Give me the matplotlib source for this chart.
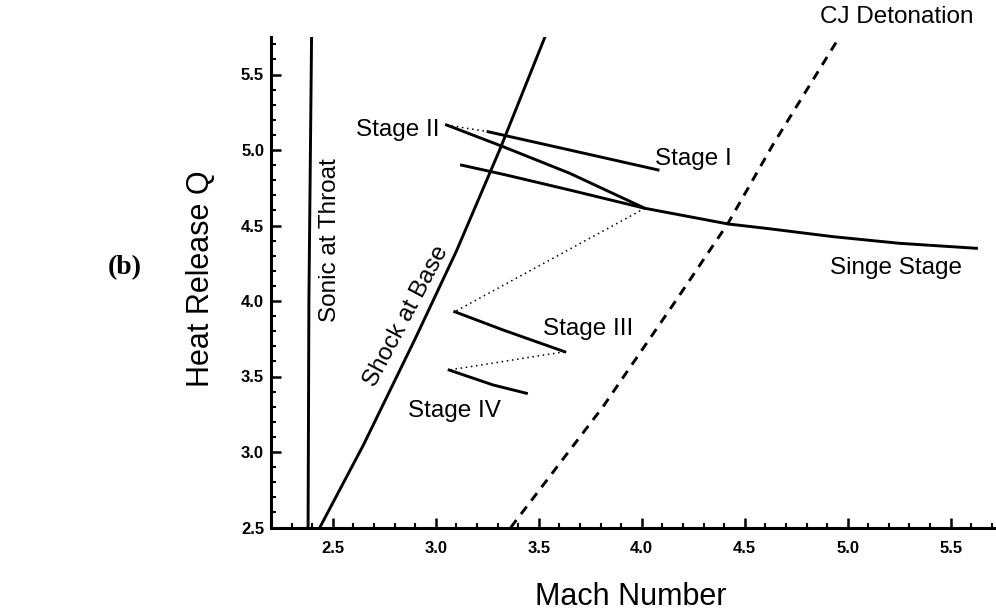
import matplotlib
matplotlib.use("Agg")
import matplotlib.pyplot as plt
from matplotlib.ticker import MultipleLocator, FormatStrFormatter

plt.rcParams['font.family'] = ['Liberation Sans', 'DejaVu Sans']

# ---- data ----
sonic_x = [2.380, 2.384, 2.397]
sonic_y = [2.50, 4.00, 5.75]

shock_x = [2.437, 2.65, 2.90, 3.10, 3.31, 3.529]
shock_y = [2.50, 3.05, 3.75, 4.33, 5.00, 5.745]

cj_x = [3.364, 3.812, 4.168, 4.419, 4.636, 4.956]
cj_y = [2.50, 3.30, 4.007, 4.515, 5.033, 5.74]

singe_x = [3.125, 3.343, 3.65, 4.015, 4.42, 4.605, 4.929, 5.252, 5.625]
singe_y = [4.90, 4.834, 4.735, 4.614, 4.51, 4.481, 4.426, 4.382, 4.349]

stage1_x = [3.254, 3.65, 4.079]
stage1_y = [5.121, 5.00, 4.868]

stage2_x = [3.052, 3.327, 3.65, 4.015]
stage2_y = [5.166, 5.022, 4.846, 4.614]

stage3_x = [3.092, 3.327, 3.626]
stage3_y = [3.929, 3.808, 3.664]

stage4_x = [3.065, 3.278, 3.44]
stage4_y = [3.543, 3.444, 3.389]

# dotted connectors between stages
conn_x = [[3.052, 3.254], [4.015, 3.092], [3.626, 3.065]]
conn_y = [[5.166, 5.121], [4.614, 3.929], [3.664, 3.543]]

x_lim = (2.2, 5.72)
y_lim = (2.5, 5.75)

# ---- figure ----
fig = plt.figure(figsize=(9.96, 6.16), dpi=100)
ax = fig.add_axes([271/996, 88.5/616, (996-271)/996, (579.25-88.5)/616])

lw = 2.1
ax.plot(sonic_x, sonic_y, color='black', lw=lw)
ax.plot(shock_x, shock_y, color='black', lw=lw)
ax.plot(cj_x, cj_y, color='black', lw=lw, linestyle=(0, (3.2, 2.6)))
ax.plot(singe_x, singe_y, color='black', lw=lw)
ax.plot(stage1_x, stage1_y, color='black', lw=lw)
ax.plot(stage2_x, stage2_y, color='black', lw=lw)
ax.plot(stage3_x, stage3_y, color='black', lw=lw)
ax.plot(stage4_x, stage4_y, color='black', lw=lw)
for cx, cy in zip(conn_x, conn_y):
    ax.plot(cx, cy, color='black', lw=1.1, linestyle=(0, (1, 2.4)))

ax.set_xlim(*x_lim)
ax.set_ylim(*y_lim)

for s in ['top', 'right']:
    ax.spines[s].set_visible(False)
for s in ['left', 'bottom']:
    ax.spines[s].set_linewidth(2.2)

ax.xaxis.set_major_locator(MultipleLocator(0.5))
ax.xaxis.set_minor_locator(MultipleLocator(0.1))
ax.yaxis.set_major_locator(MultipleLocator(0.5))
ax.yaxis.set_minor_locator(MultipleLocator(0.1))
ax.xaxis.set_major_formatter(FormatStrFormatter('%.1f'))
ax.yaxis.set_major_formatter(FormatStrFormatter('%.1f'))

ax.tick_params(axis='both', which='major', direction='in', length=7, width=1.8,
               labelsize=12)
ax.tick_params(axis='both', which='minor', direction='in', length=3.5, width=1.5)
ax.tick_params(axis='x', which='major', pad=10)
ax.tick_params(axis='y', which='major', pad=5)
ax.tick_params(top=False, right=False, which='both')
for lab in ax.get_xticklabels() + ax.get_yticklabels():
    lab.set_fontweight('bold')

# ---- labels ----
fs = 17.5
ax.text(3.019, 5.132, 'Stage II', ha='right', va='center', fontsize=fs)
ax.text(4.063, 4.94, 'Stage I', ha='left', va='center', fontsize=fs)
ax.text(3.519, 3.815, 'Stage III', ha='left', va='center', fontsize=fs)
ax.text(2.864, 3.272, 'Stage IV', ha='left', va='center', fontsize=fs)
ax.text(4.913, 4.218, 'Singe Stage', ha='left', va='center', fontsize=fs)
ax.text(4.864, 5.88, 'CJ Detonation', ha='left', va='center', fontsize=fs,
        clip_on=False)
ax.text(2.4854, 4.404, 'Sonic at Throat', ha='center', va='center',
        fontsize=fs, rotation=90)
ax.text(2.858, 3.896, 'Shock at Base', ha='center', va='center',
        fontsize=fs, rotation=62, rotation_mode='anchor')

fig.text(631/996, 1 - 597/616, 'Mach Number', ha='center', va='center',
         fontsize=22)
fig.text(200.5/996, 1 - 279/616, 'Heat Release Q', ha='center', va='center',
         fontsize=22, rotation=90)
fig.text(125/996, 1 - 268/616, '(b)', ha='center', va='center',
         fontsize=20, fontweight='bold', family=['Liberation Serif', 'DejaVu Serif'])

fig.savefig('out.png', dpi=100)
